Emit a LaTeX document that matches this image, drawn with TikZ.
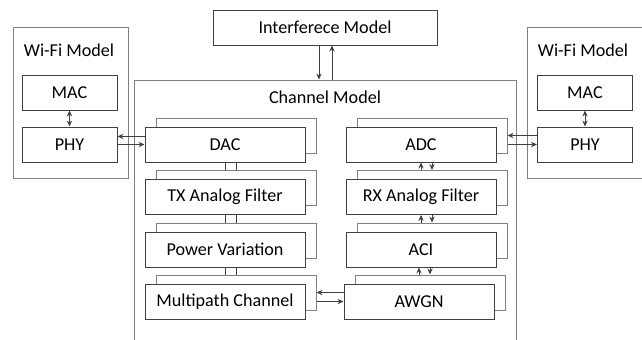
\documentclass[tikz,border=0pt]{standalone}
\usepackage{fontspec}
\setmainfont{Carlito}
\usetikzlibrary{calc, backgrounds, arrows.meta}
\definecolor{linegray}{RGB}{64,64,64}
\definecolor{outergray}{RGB}{128,128,128}

\begin{document}
\begin{tikzpicture}[x=0.75pt, y=-0.75pt, font=\fontsize{13.6}{16}\selectfont, >={Stealth[length=4.5pt, width=4pt]}]
\tikzstyle{blk} = [rectangle, draw=linegray, fill=white, line width=.75pt, minimum height=26.25pt, inner sep=0pt, text centered]
\tikzstyle{lblk} = [blk, minimum width=120pt]
\tikzstyle{rblk} = [blk, minimum width=112.5pt]
\tikzstyle{sblk} = [blk, minimum width=71.25pt]
\tikzstyle{shd} = [draw=outergray, xshift=8.25pt, yshift=6.75pt]
\tikzstyle{outer} = [rectangle, draw=outergray, line width=.75pt, inner sep=0pt]
\tikzstyle{con} = [line width=.75pt, draw=linegray]

\useasboundingbox (0,0) rectangle (642,339);

\node (intf) [blk, minimum width=168pt] at (325,27.5) {Interferece Model};

% wi-fi models
\node (wifil) [outer, minimum width=86.25pt, minimum height=113.25pt] at (70.5,102.5) {};
\node (wifiltitle) at (69,50) {Wi-Fi Model};
\node (macl) [sblk] at (69.5,92.5) {MAC};
\node (phyl) [sblk] at (69.5,144.5) {PHY};

\node (wifir) [outer, minimum width=89.25pt, minimum height=113.25pt] at (586.5,102.5) {};
\node (wifirtitle) at (583,50) {Wi-Fi Model};
\node (macr) [sblk] at (585,92.5) {MAC};
\node (phyr) [sblk] at (585,144.5) {PHY};

% channel model
\node (chan) [outer, minimum width=286.5pt, minimum height=198.75pt] at (325,212.5) {};
\node (chantitle) at (325,97) {Channel Model};

\node (dac) [lblk] at (225,144.5) {DAC};
\node (tx) [lblk] at (225,197) {TX Analog Filter};
\node (pv) [lblk] at (225,249.5) {Power Variation};
\node (mp) [lblk] at (225,301.5) {Multipath Channel};
\begin{scope}[on background layer]
\node (dacs) [lblk, shd] at (225,144.5) {};
\node (txs) [lblk, shd] at (225,197) {};
\node (pvs) [lblk, shd] at (225,249.5) {};
\node (mps) [lblk, shd] at (225,301.5) {};
\end{scope}

\node (adc) [rblk] at (421,144.5) {ADC};
\node (rx) [rblk] at (421,197) {RX Analog Filter};
\node (aci) [rblk] at (421,249.5) {ACI};
\node (awgn) [rblk] at (419,301.5) {AWGN};
\begin{scope}[on background layer]
\node (adcs) [rblk, shd] at (421,144.5) {};
\node (rxs) [rblk, shd] at (421,197) {};
\node (acis) [rblk, shd] at (421,249.5) {};
\node (awgns) [rblk, shd] at (419,301.5) {};
\end{scope}

\draw[con, ->] ($(intf.south)+(-6,0)$) -- ($(chan.north)+(-6,0)$);
\draw[con, ->] ($(chan.north)+(7,0)$) -- ($(intf.south)+(7,0)$);

\draw[con, <->] (macl) -- (phyl);
\draw[con, <->] (macr) -- (phyr);

\draw[con, ->] ($(dac.west)+(0,-8)$) -- ($(phyl.east)+(0,-8)$);
\draw[con, ->] (phyl.east) -- (dac.west);
\draw[con, ->] (phyr.west |- adcs.east) -- (adcs.east);
\draw[con, ->] (adcs.east |- adc.east) -- (phyr.west);

\draw[con] (dac.south) -- (dac.south |- txs.north);
\draw[con] (txs.north |- dac.south) -- (txs.north);
\draw[con] (tx.south) -- (tx.south |- pvs.north);
\draw[con] (pvs.north |- tx.south) -- (pvs.north);
\draw[con] (pv.south) -- (pv.south |- mps.north);
\draw[con] (mps.north |- pv.south) -- (mps.north);

\draw[con, ->] (adc.south |- rxs.north) -- (adc.south);
\draw[con, ->] (rxs.north |- adc.south) -- (rxs.north);
\draw[con, ->] (rx.south |- acis.north) -- (rx.south);
\draw[con, ->] (acis.north |- rx.south) -- (acis.north);
\draw[con, ->] (awgn.north |- awgns.north) -- (aci.south -| awgn.north);
\draw[con, ->] (awgns.north |- aci.south) -- (awgns.north);

\draw[con, ->] (awgn.west |- mps.east) -- (mps.east);
\draw[con, ->] (mps.east |- awgn.west) -- (awgn.west);

\end{tikzpicture}
\end{document}
